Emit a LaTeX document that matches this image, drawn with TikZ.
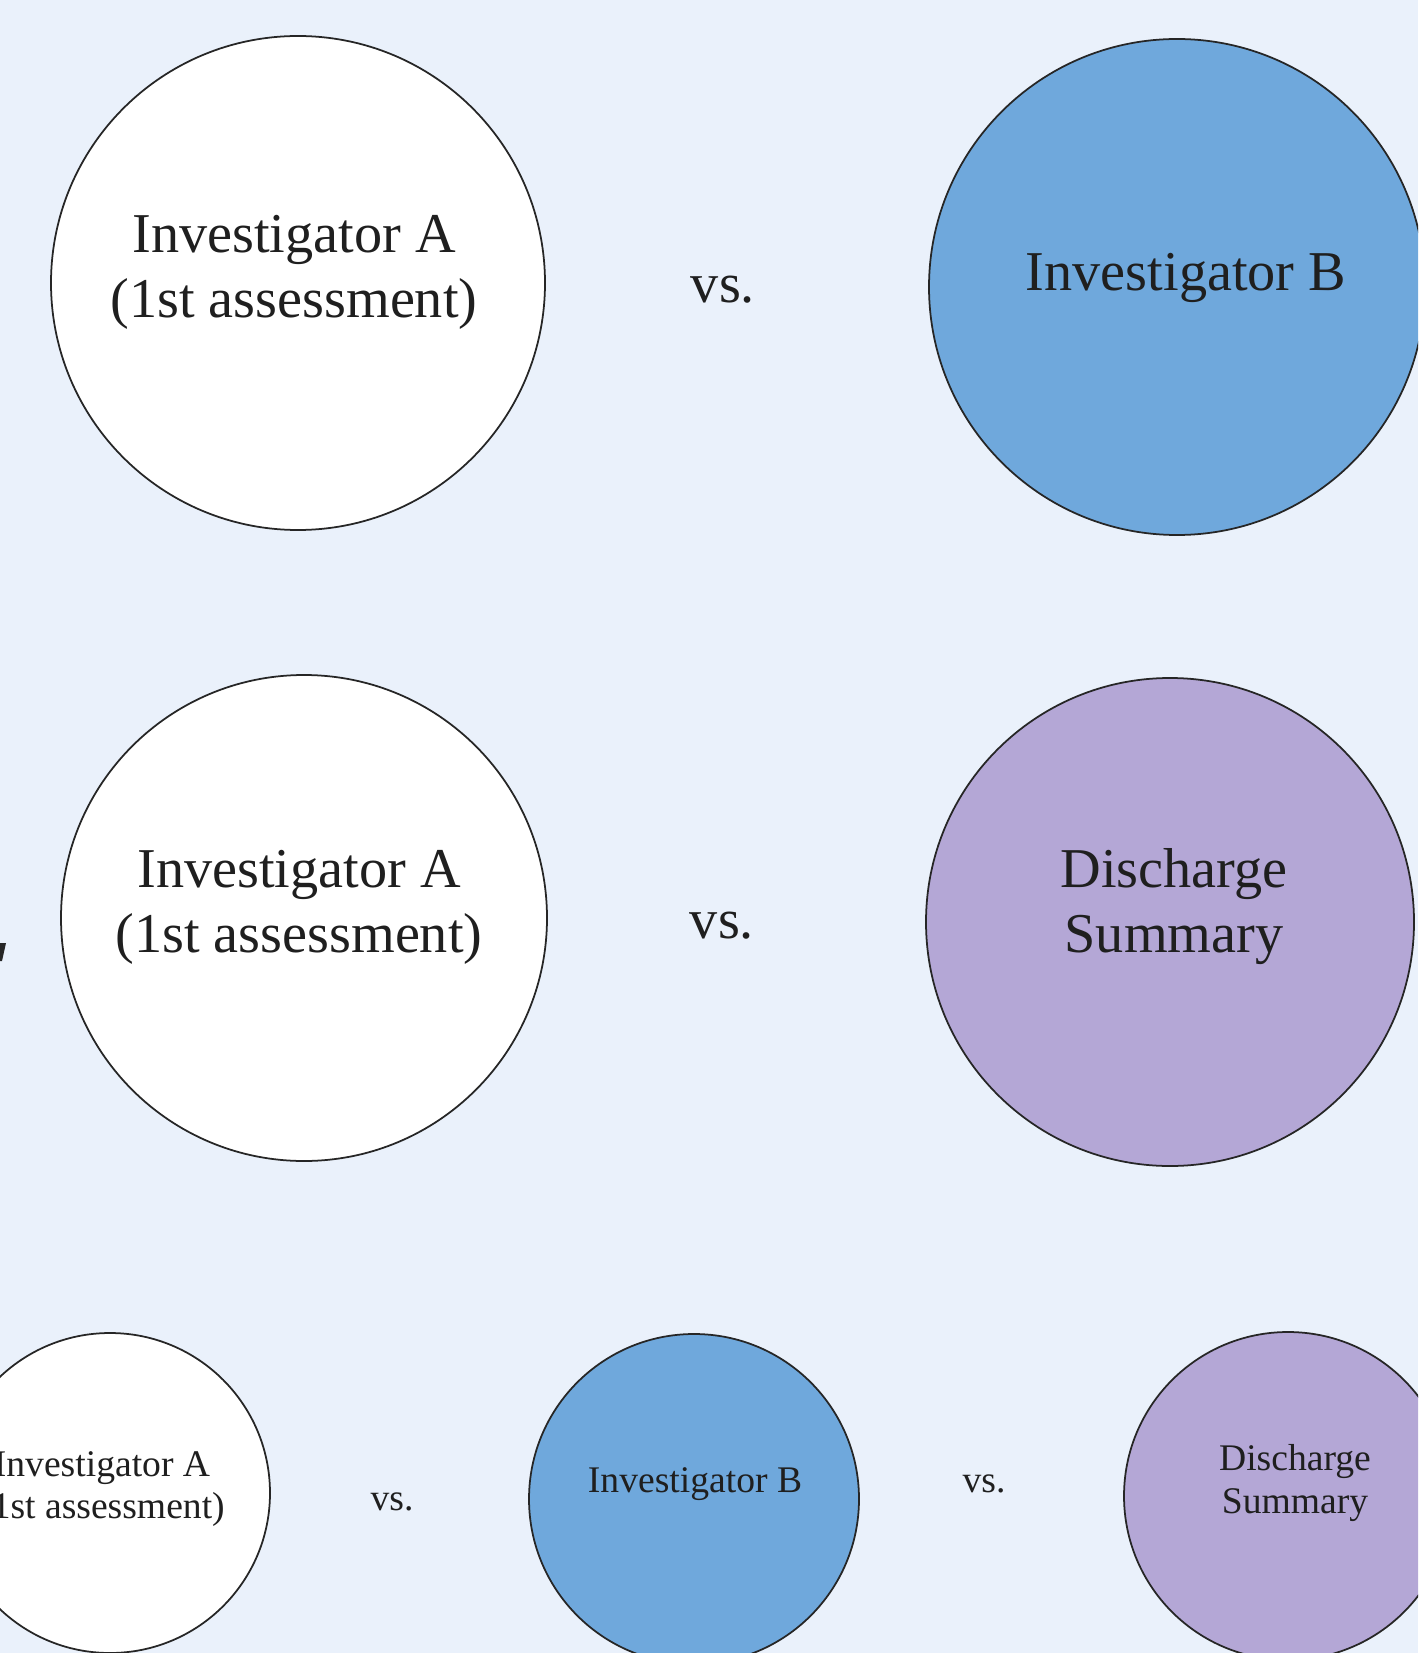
\documentclass[tikz,border=0pt]{standalone}
\usepackage{xcolor}
\usepackage{fontspec}
\setmainfont{Liberation Serif}
\usetikzlibrary{positioning}
\definecolor{pagebg}{HTML}{EAF1FB}
\definecolor{invbblue}{HTML}{6FA8DC}
\definecolor{dsumpurple}{HTML}{B4A7D6}

\begin{document}
\begin{tikzpicture}[x=0.1mm, y=-0.1mm,
  disc/.style={circle, draw=black!85, line width=0.5pt, inner sep=0pt},
  biglbl/.style={align=center, font=\fontsize{16}{18.5}\selectfont, text=black!88},
  smalllbl/.style={align=center, font=\fontsize{10.7}{12.2}\selectfont, text=black!88},
]
\fill[pagebg] (0,0) rectangle (1418,1653);
\useasboundingbox (0,0) rectangle (1418,1653);
\clip (0,0) rectangle (1418,1653);
% row 1: investigator A vs. investigator B
\node[disc, fill=white, minimum size=49.4mm] (ia1) at (298,283) {};
\node[disc, fill=invbblue, minimum size=49.6mm] (ib1) at (1177,287) {};
\node[biglbl] (ia1t) at (294,272) {Investigator A\\(1st assessment)};
\node[biglbl] (ib1t) at (1186,278) {Investigator B};
\node[biglbl] (vs1) at (723,290) {vs.};
% row 2: investigator A vs. discharge summary
\node[disc, fill=white, minimum size=48.6mm] (ia2) at (304,918) {};
\node[disc, fill=dsumpurple, minimum size=48.8mm] (ds2) at (1170,922) {};
\node[biglbl] (ia2t) at (299,907) {Investigator A\\(1st assessment)};
\node[biglbl] (ds2t) at (1174,907) {Discharge\\Summary};
\node[biglbl] (vs2) at (722,926) {vs.};
\fill[black!85] (0,943) -- (6,943) -- (2,961) -- (0,961) -- cycle;
% row 3: all three
\node[disc, fill=white, minimum size=32mm] (ia3) at (110,1493) {};
\node[disc, fill=invbblue, minimum size=33mm] (ib3) at (694,1499) {};
\node[disc, fill=dsumpurple, minimum size=32.8mm] (ds3) at (1288,1496) {};
\node[smalllbl] (ia3t) at (102,1489) {Investigator A\\(1st assessment)};
\node[smalllbl] (ib3t) at (695,1484) {Investigator B};
\node[smalllbl] (ds3t) at (1295,1483) {Discharge\\Summary};
\node[smalllbl] (vs3a) at (392,1502) {vs.};
\node[smalllbl] (vs3b) at (984,1484) {vs.};
\end{tikzpicture}
\end{document}
